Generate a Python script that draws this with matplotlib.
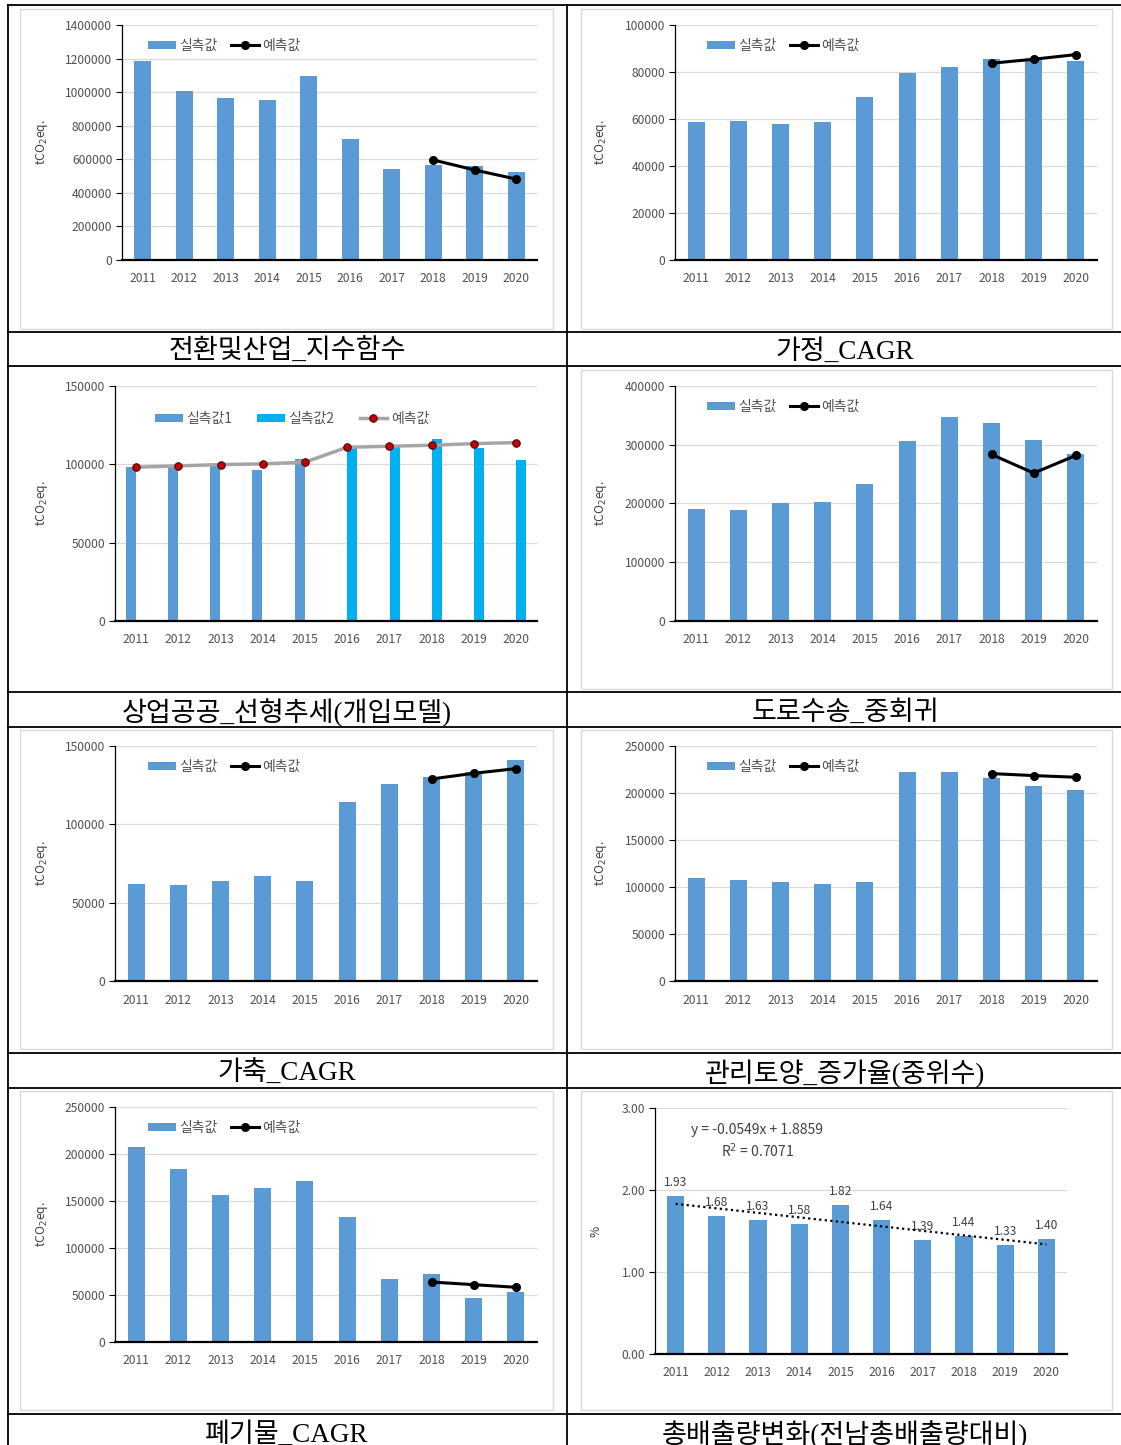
import numpy as np
import matplotlib.pyplot as plt
from matplotlib.patches import Patch, Rectangle
from matplotlib.lines import Line2D

plt.rcParams['font.family'] = ['Noto Sans CJK KR', 'DejaVu Sans']

W, H = 1121, 1445

years = ['2011', '2012', '2013', '2014', '2015', '2016', '2017', '2018', '2019', '2020']

# 전환및산업
ind_actual = [1185000, 1008000, 967000, 953000, 1094000, 719000, 542000, 566000, 558000, 522000]
ind_pred = [596000, 536000, 482000]
# 가정
home_actual = [58800, 59300, 57850, 58560, 69170, 79770, 82040, 85430, 85150, 84720]
home_pred = [83730, 85430, 87410]
# 상업공공
com_actual1 = [98600, 98600, 99000, 96450, 103460]
com_actual2 = [110900, 111300, 116200, 110700, 102600]
com_pred = [98150, 99000, 99850, 100280, 101340, 110900, 111540, 112170, 113230, 113870]
# 도로수송
road_actual = [191200, 189500, 200300, 203100, 233100, 307200, 347400, 337800, 308900, 284600]
road_pred = [283500, 251800, 281800]
# 가축
live_actual = [62040, 60970, 63740, 67130, 63740, 114300, 125770, 130020, 133630, 140860]
live_pred = [128960, 132570, 135540]
# 관리토양
soil_actual = [109970, 107850, 105020, 103250, 105020, 222060, 222060, 216410, 207210, 203680]
soil_pred = [220650, 218530, 216760]
# 폐기물
waste_actual = [207800, 184400, 156000, 164200, 170900, 133000, 67000, 72300, 47200, 53500]
waste_pred = [63800, 61000, 58200]
# 총배출량 비율 (%)
share_pct = [1.93, 1.68, 1.63, 1.58, 1.82, 1.64, 1.39, 1.44, 1.33, 1.40]
trend_slope, trend_icept, trend_r2 = -0.0549, 1.8859, 0.7071

captions = ['전환및산업_지수함수', '가정_CAGR', '상업공공_선형추세(개입모델)', '도로수송_중회귀',
            '가축_CAGR', '관리토양_증가율(중위수)', '폐기물_CAGR', '총배출량변화(전남총배출량대비)']

BLUE = '#5B9BD5'
CYAN = '#00B0F0'
TXT = '#505050'

fig = plt.figure(figsize=(W / 100, H / 100), dpi=100)


def px_axes(x0, y0, x1, y1):
    return fig.add_axes([x0 / W, 1 - y1 / H, (x1 - x0) / W, (y1 - y0) / H])


def frame(x0, y0, x1, y1):
    fig.patches.append(Rectangle((x0 / W, 1 - y1 / H), (x1 - x0) / W, (y1 - y0) / H,
                                 transform=fig.transFigure, fill=False,
                                 edgecolor='#D9D9D9', lw=1))


def style(ax, ymax, step, fmt, ylabel, lab_x):
    x = np.arange(len(years))
    ax.set_xlim(-0.5, len(years) - 0.5)
    ax.set_ylim(0, ymax)
    ticks = np.arange(0, ymax + step / 2, step)
    ax.set_yticks(ticks)
    ax.set_yticklabels([fmt.format(t) for t in ticks])
    ax.set_xticks(x)
    ax.set_xticklabels(years)
    ax.tick_params(axis='x', length=0, pad=9, labelsize=8.7, labelcolor=TXT)
    ax.tick_params(axis='y', length=4, width=0.8, pad=3, labelsize=8.7, labelcolor=TXT)
    ax.yaxis.grid(True, color='#D9D9D9', lw=0.9)
    ax.set_axisbelow(True)
    for s in ['top', 'right']:
        ax.spines[s].set_visible(False)
    ax.spines['left'].set_linewidth(0.9)
    ax.spines['bottom'].set_linewidth(1.6)
    ax.set_ylabel(ylabel, fontsize=8.7, color='#404040')
    bb = ax.get_position()
    ax.yaxis.set_label_coords((lab_x / W - bb.x0) / bb.width, 0.5)
    ax.set_facecolor('none')


def legend2(ax, lx, ly):
    handles = [Patch(facecolor=BLUE),
               Line2D([], [], color='black', lw=2.2, marker='o', markersize=5.5)]
    ax.legend(handles, ['실측값', '예측값'], loc='upper left', ncol=2,
              bbox_to_anchor=(lx / W, 1 - ly / H), bbox_transform=fig.transFigure,
              frameon=False, borderpad=0, borderaxespad=0, fontsize=10,
              handlelength=2.0, handleheight=0.55, handletextpad=0.25,
              columnspacing=1.0, labelcolor=TXT)


def caption(text, xy):
    fig.text(xy[0] / W, 1 - xy[1] / H, text, ha='center', va='center', fontsize=19.5,
             family=['Liberation Serif', 'Noto Sans CJK KR'], color='black')


def std_chart(box, fbox, actual, pred, ymax, step, cap, cap_xy, leg_xy, lab_x):
    frame(*fbox)
    ax = px_axes(*box)
    x = np.arange(len(years))
    ax.bar(x, actual, width=0.4, color=BLUE)
    ax.plot(x[-len(pred):], pred, color='black', lw=2.2, marker='o', markersize=5.5, zorder=3)
    style(ax, ymax, step, '{:.0f}', 'tCO$_2$eq.', lab_x)
    legend2(ax, *leg_xy)
    caption(cap, cap_xy)
    return ax


LX, RX = 287, 845

# row 1
std_chart((122, 25, 537, 260), (20, 9, 553, 329), ind_actual, ind_pred, 1400000, 200000,
          captions[0], (LX, 352), (148, 39), 50)
std_chart((675, 25, 1097, 260), (581, 9, 1112, 329), home_actual, home_pred, 100000, 20000,
          captions[1], (RX, 352), (707, 39), 609)

# row 2 - 상업공공
ax = px_axes(115, 386, 537, 621)
x = np.arange(len(years))
ax.bar(x[:5] - 0.125, com_actual1, width=0.24, color=BLUE)
ax.bar(x[5:] + 0.125, com_actual2, width=0.24, color=CYAN)
ax.plot(x, com_pred, color='#A5A5A5', lw=2.5, marker='o', markersize=5.5,
        markerfacecolor='#C00000', markeredgecolor='#300000', markeredgewidth=0.6, zorder=3)
style(ax, 150000, 50000, '{:.0f}', 'tCO$_2$eq.', 50)
handles = [Patch(facecolor=BLUE), Patch(facecolor=CYAN),
           Line2D([], [], color='#A5A5A5', lw=2.5, marker='o', markersize=5.5,
                  markerfacecolor='#C00000', markeredgecolor='#300000', markeredgewidth=0.6)]
ax.legend(handles, ['실측값1', '실측값2', '예측값'], loc='upper left', ncol=3,
          bbox_to_anchor=(155 / W, 1 - 412 / H), bbox_transform=fig.transFigure,
          frameon=False, borderpad=0, borderaxespad=0, fontsize=10,
          handlelength=2.0, handleheight=0.55, handletextpad=0.25,
          columnspacing=1.8, labelcolor=TXT)
caption(captions[2], (LX, 713))

std_chart((675, 386, 1097, 621), (581, 370, 1112, 689), road_actual, road_pred, 400000, 100000,
          captions[3], (RX, 713), (707, 400), 609)

# row 3
std_chart((115, 746, 537, 981), (20, 730, 553, 1049), live_actual, live_pred, 150000, 50000,
          captions[4], (LX, 1074), (148, 760), 50)
std_chart((675, 746, 1097, 981), (581, 730, 1112, 1049), soil_actual, soil_pred, 250000, 50000,
          captions[5], (RX, 1074), (707, 760), 609)

# row 4
std_chart((115, 1107, 537, 1342), (20, 1091, 553, 1410), waste_actual, waste_pred, 250000, 50000,
          captions[6], (LX, 1435), (148, 1121), 50)

frame(581, 1091, 1112, 1410)
ax = px_axes(655, 1108, 1067, 1354)
bars = ax.bar(x, share_pct, width=0.42, color=BLUE)
ax.bar_label(bars, fmt='%.2f', padding=5, fontsize=8.7, color='#404040')
xt = x + 1
ax.plot(x, trend_slope * xt + trend_icept, color='black', lw=1.6, ls=(0, (1, 1.5)), zorder=3)
style(ax, 3.0, 1.0, '{:.2f}', '%', 603)
ax.text(757 / W, 1 - 1130 / H, f'y = {trend_slope}x + {trend_icept}', transform=fig.transFigure,
        ha='center', va='center', fontsize=10, color='#404040')
ax.text(758 / W, 1 - 1151 / H, f'R$^2$ = {trend_r2}', transform=fig.transFigure,
        ha='center', va='center', fontsize=10, color='#404040')
caption(captions[7], (RX, 1435))

# table grid lines
for yy in [5, 332, 366, 692, 727, 1053, 1088, 1414]:
    fig.add_artist(Line2D([8 / W, 1], [1 - yy / H] * 2, color='black', lw=1.3))
for xx in [8, 567]:
    fig.add_artist(Line2D([xx / W] * 2, [1 - 5 / H, 0], color='black', lw=1.3))

fig.savefig('out.png', dpi=100)
